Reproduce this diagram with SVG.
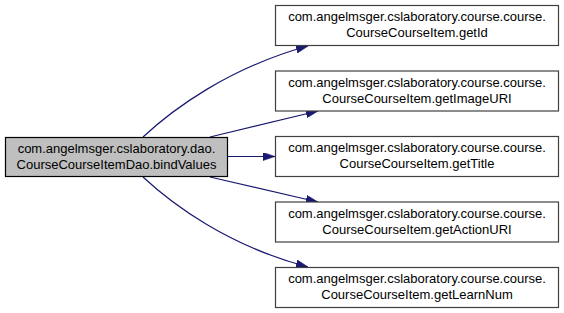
<svg xmlns="http://www.w3.org/2000/svg" width="564" height="313" viewBox="0 0 564 313">
  <style>
    .node rect { fill: #ffffff; stroke: #404040; stroke-width: 1.2; }
    .node.main rect { fill: #bfbfbf; stroke: #000000; }
    .node text { font-family: "Liberation Sans", Arial, sans-serif; font-size: 13px; fill: #000000; text-anchor: middle; }
    .edge { fill: none; stroke: #191970; stroke-width: 1.2; }
  </style>
  <defs>
    <marker id="arrow" viewBox="0 0 12 8" refX="12" refY="4" markerWidth="12" markerHeight="8" markerUnits="userSpaceOnUse" orient="auto">
      <path d="M0,0 L12,4 L0,8 Z" fill="#191970" stroke="#191970" stroke-width="0.6"/>
    </marker>
  </defs>

  <g id="connectors">
    <path class="edge" marker-end="url(#arrow)" d="M143,137 C172,110 228,68 308,46"/>
    <path class="edge" marker-end="url(#arrow)" d="M210,137 L318,111"/>
    <path class="edge" marker-end="url(#arrow)" d="M228,156.5 L275,156.5"/>
    <path class="edge" marker-end="url(#arrow)" d="M210,177 L318,202"/>
    <path class="edge" marker-end="url(#arrow)" d="M143,177 C172,204 228,246 308,267"/>
  </g>

  <g id="node-bindValues" class="node main">
    <rect x="5.5" y="137.5" width="222" height="39"/>
    <text x="116.5" y="153">com.angelmsger.cslaboratory.dao.</text>
    <text x="116.5" y="169">CourseCourseItemDao.bindValues</text>
  </g>

  <g id="node-getId" class="node">
    <rect x="275.5" y="5.5" width="283" height="40"/>
    <text x="417" y="21">com.angelmsger.cslaboratory.course.course.</text>
    <text x="417" y="37">CourseCourseItem.getId</text>
  </g>

  <g id="node-getImageURI" class="node">
    <rect x="275.5" y="71" width="283" height="40"/>
    <text x="417" y="86.5">com.angelmsger.cslaboratory.course.course.</text>
    <text x="417" y="102.5">CourseCourseItem.getImageURI</text>
  </g>

  <g id="node-getTitle" class="node">
    <rect x="275.5" y="136.5" width="283" height="40"/>
    <text x="417" y="152">com.angelmsger.cslaboratory.course.course.</text>
    <text x="417" y="168">CourseCourseItem.getTitle</text>
  </g>

  <g id="node-getActionURI" class="node">
    <rect x="275.5" y="202" width="283" height="40"/>
    <text x="417" y="217.5">com.angelmsger.cslaboratory.course.course.</text>
    <text x="417" y="233.5">CourseCourseItem.getActionURI</text>
  </g>

  <g id="node-getLearnNum" class="node">
    <rect x="275.5" y="267.5" width="283" height="40"/>
    <text x="417" y="283">com.angelmsger.cslaboratory.course.course.</text>
    <text x="417" y="299">CourseCourseItem.getLearnNum</text>
  </g>
</svg>
